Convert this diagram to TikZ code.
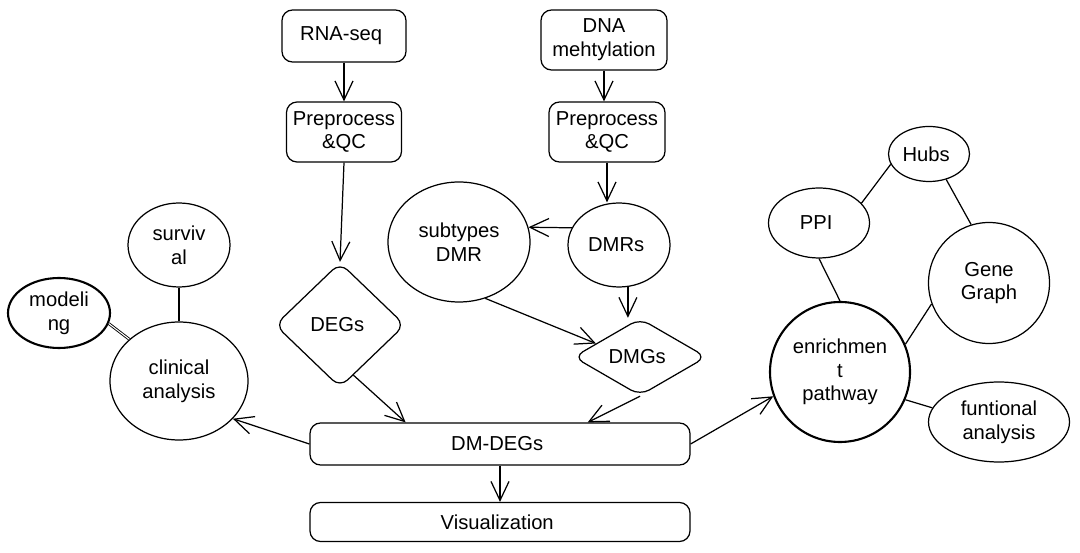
\documentclass[tikz,border=0pt]{standalone}
\usepackage{fontspec}
\setmainfont{Liberation Sans}
\usetikzlibrary{arrows.meta,shapes.geometric,calc}

\begin{document}
\begin{tikzpicture}[
    line width=0.7pt,
    font=\fontsize{11.5}{13.5}\selectfont,
    arr/.style={-{Straight Barb[length=3.8mm,width=3.6mm]}},
    box/.style={draw, rounded corners=6pt, align=center, inner sep=0pt},
    blob/.style={draw, ellipse, align=center, inner sep=0pt},
    gem/.style={draw, diamond, rounded corners=6pt, align=center, inner sep=0pt}
  ]
  \useasboundingbox (0,0) rectangle (21.6,11.06);

  % inputs and preprocessing
  \node[box, minimum width=2.48cm, minimum height=1.04cm] (rna) at (6.88,10.34) { RNA-seq };
  \node[box, minimum width=2.52cm, minimum height=1.2cm] (dna) at (12.08,10.26) { DNA\\mehtylation };
  \node[box, minimum width=2.3cm, minimum height=1.2cm] (preL) at (6.88,8.42) { Preprocess\\\&QC };
  \node[box, minimum width=2.32cm, minimum height=1.2cm] (preR) at (12.14,8.42) { Preprocess\\\&QC };

  \node[gem, minimum width=2.6cm, minimum height=2.5cm] (degs) at (6.8,4.56) { DEGs };
  \node[blob, minimum width=2.04cm, minimum height=1.68cm] (dmrs) at (12.38,6.16) { DMRs };
  \node[blob, minimum width=2.84cm, minimum height=2.4cm] (sub) at (9.18,6.22) { subtypes\\DMR };
  \node[gem, minimum width=2.66cm, minimum height=1.3cm] (dmgs) at (12.8,3.92) { DMGs };

  \node[box, minimum width=7.6cm, minimum height=0.84cm] (dmdegs) at (10,2.18) { DM-DEGs };
  \node[box, minimum width=7.6cm, minimum height=0.78cm] (vis) at (10,0.62) { Visualization };

  % clinical side
  \node[blob, minimum width=2.76cm, minimum height=2.36cm] (clin) at (3.58,3.44) { clinical\\analysis };
  \node[blob, minimum width=2.04cm, minimum height=1.68cm] (surv) at (3.58,6.16) { surviv\\al };
  \node[blob, line width=1.2pt, minimum width=2.04cm, minimum height=1.4cm] (model) at (1.18,4.8) { modeli\\ng };

  % enrichment side
  \node[blob, minimum width=1.62cm, minimum height=1.1cm] (hubs) at (18.58,7.98) { Hubs };
  \node[blob, minimum width=2.02cm, minimum height=1.4cm] (ppi) at (16.38,6.6) { PPI };
  \node[blob, minimum width=2.42cm, minimum height=2.42cm] (gene) at (19.78,5.4) { Gene\\Graph };
  \node[blob, line width=1.2pt, minimum width=2.8cm, minimum height=2.8cm] (enr) at (16.8,3.62) { enrichmen\\t\\pathway };
  \node[blob, minimum width=2.82cm, minimum height=1.6cm] (func) at (19.98,2.62) { funtional\\analysis };

  % flow
  \draw[arr] (rna.south) -- (preL.north);
  \draw[arr] (dna.south) -- (dna.south |- preR.north);
  \draw[arr] (preL.south) -- (degs.north);
  \draw[arr] (preR.south) -- (preR.south |- dmrs.north);
  \draw[arr] (dmrs.160) -- (sub.12);
  \draw[arr] (dmrs.-78) -- (dmrs.-78 |- dmgs.north);
  \draw[arr] (sub.-65) -- (dmgs.163);
  \draw[arr] (degs.-75) -- (degs.east |- dmdegs.north);
  \draw[arr] (dmgs.south) -- ($(dmdegs.north)!0.46!(dmdegs.north east)$);
  \draw[arr] (dmdegs.south) -- (vis.north);
  \draw[arr] (dmdegs.west) -- (clin.-35);
  \draw[arr] (dmdegs.east) -- (enr.200);

  % links
  \draw (surv.south) -- (clin.north);
  \draw[double, line width=0.5pt] (model.-12) -- (clin.140);
  \draw (ppi.25) -- (hubs.195);
  \draw (hubs.-56) -- (gene.107);
  \draw (ppi.south) -- (enr.north);
  \draw (gene.200) -- (enr.23);
  \draw (enr.-23) -- (func.168);
\end{tikzpicture}
\end{document}
